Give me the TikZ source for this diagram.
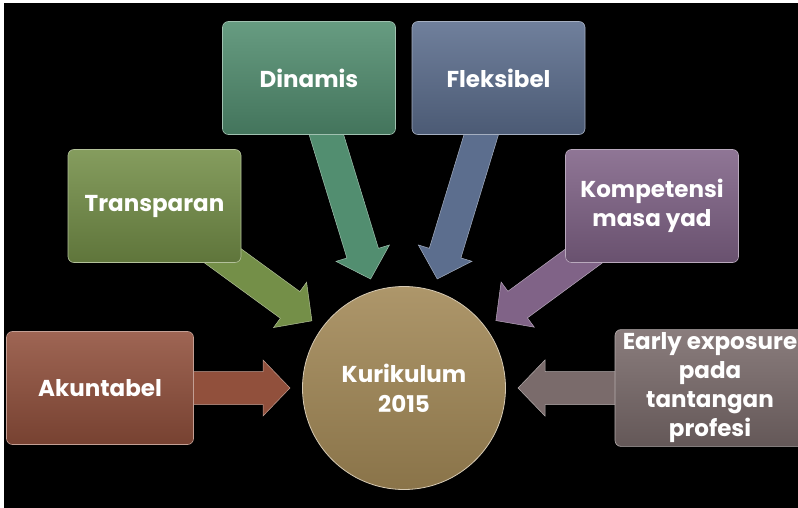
\documentclass[tikz,border=0pt]{standalone}
\usepackage{fontspec}
\setmainfont{Poppins}
\usetikzlibrary{calc, backgrounds}

\definecolor{dinamisc}{RGB}{82,142,112}
\definecolor{transparanc}{RGB}{116,143,72}
\definecolor{fleksibelc}{RGB}{92,110,142}
\definecolor{kompetensic}{RGB}{128,99,135}
\definecolor{akuntabelc}{RGB}{145,80,60}
\definecolor{earlyc}{RGB}{122,107,107}
\definecolor{kurc}{RGB}{162,136,86}

\tikzset{every node/.style={align=center}}
\tikzset{box/.style={rounded corners=6pt, minimum width=173pt, minimum height=113pt, text=white, font=\bfseries\fontsize{23}{29}\selectfont, top color=#1!88!white, bottom color=#1!82!black, draw=#1!55!white, line width=0.6pt}}
\tikzset{hub/.style={circle, minimum size=203pt, text=white, font=\bfseries\fontsize{23}{30}\selectfont, top color=#1!88!white, bottom color=#1!85!black, draw=#1!45!white, line width=0.8pt}}

% block arrow from a box towards the hub
\newcommand{\convarrow}[2]{%
	\coordinate (hb) at ($(kur)!141pt!(#1)$);
	\coordinate (tp) at ($(kur)!114pt!(#1)$);
	\fill[#2, draw=#2!55!white, line width=0.5pt]
		($(#1)!16.5pt!90:(kur)$) -- ($(hb)!16.5pt!90:(kur)$) -- ($(hb)!28pt!90:(kur)$) -- (tp)
		-- ($(hb)!28pt!-90:(kur)$) -- ($(hb)!16.5pt!-90:(kur)$) -- ($(#1)!16.5pt!-90:(kur)$) -- cycle;
}

\begin{document}
\begin{tikzpicture}[x=1pt, y=-1pt]
	
	% Frame
	\useasboundingbox (0,0) rectangle (798,508);
	\clip (0,0) rectangle (798,508);
	
	% Nodes
	\node[hub=kurc] (kur) at (404,388) {Kurikulum\\2015};
	\node[box=dinamisc] (dinamis) at (309,78) {Dinamis};
	\node[box=fleksibelc] (fleksibel) at (498.5,78) {Fleksibel};
	\node[box=transparanc] (transparan) at (154.5,206) {Transparan};
	\node[box=kompetensic] (kompetensi) at (652,206) {Kompetensi\\masa yad};
	\node[box=akuntabelc, minimum width=187pt] (akuntabel) at (100,388) {Akuntabel};
	\node[box=earlyc, minimum width=190pt] (early) at (710,388) {Early exposure\\pada\\tantangan\\profesi};
	
	\begin{scope}[on background layer]
		% Background
		\fill[white] (0,0) rectangle (798,508);
		\fill[black] (4,3) rectangle (802,512);
		
		% Arrows
		\convarrow{dinamis}{dinamisc}
		\convarrow{fleksibel}{fleksibelc}
		\convarrow{transparan}{transparanc}
		\convarrow{kompetensi}{kompetensic}
		\convarrow{akuntabel}{akuntabelc}
		\convarrow{early}{earlyc}
	\end{scope}
	
\end{tikzpicture}
\end{document}
